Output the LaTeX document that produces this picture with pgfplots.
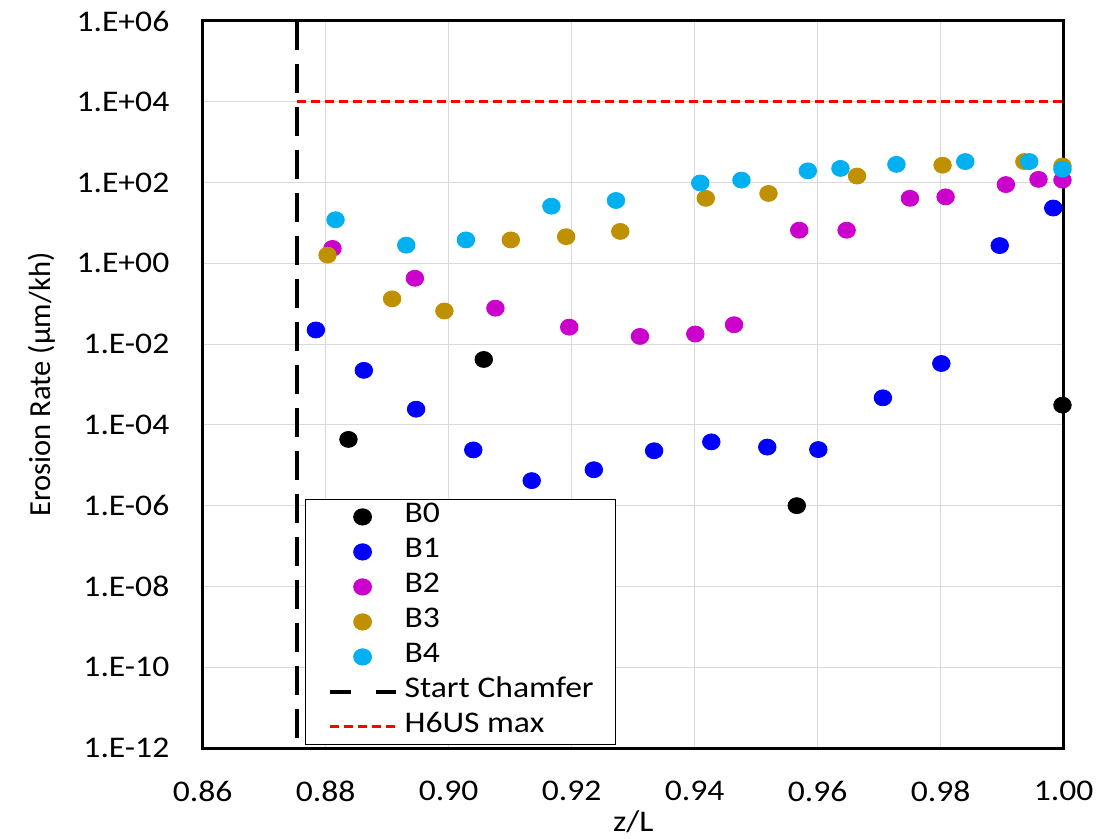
\documentclass[border=0pt]{standalone}
\usepackage{fontspec}
\setmainfont{Carlito}[FakeStretch=1.12]
\newfontfamily\ylfont{Carlito}
\usepackage{pgfplots}
\pgfplotsset{compat=1.18}
\definecolor{cB1}{RGB}{0,0,255}
\definecolor{cB2}{RGB}{204,0,204}
\definecolor{cB3}{RGB}{191,144,0}
\definecolor{cB4}{RGB}{0,176,240}
\definecolor{gridgray}{RGB}{217,217,217}
\pgfplotsset{
 markleg/.style={legend image code/.code={\draw[##1, mark repeat=2, mark phase=2] plot coordinates {(0bp,0bp) (16.5bp,0bp) (33bp,0bp)};}},
 lineleg/.style={legend image code/.code={\draw[##1] (0bp,0bp) -- (33bp,0bp);}},
 chamleg/.style={legend image code/.code={\draw[##1, dash pattern=on 10.5bp off 12.5bp] (0bp,0bp) -- (33bp,0bp);}},
 dot/.style={only marks, mark=*, mark size=4bp, mark options={solid, fill=#1, draw=#1, xscale=1.1}, color=#1, markleg},
}
\begin{document}
\begin{tikzpicture}
\useasboundingbox (-101.35bp,-45.5bp) rectangle (458.65bp,374bp);
\begin{axis}[
 scale only axis, width=430.5bp, height=363.5bp,
 ymode=log, xmin=0.86, xmax=1.00, ymin=1e-12, ymax=1e6,
 clip=false,
 xtick={0.86,0.88,0.90,0.92,0.94,0.96,0.98,1.00},
 xticklabels={0.86,0.88,0.90,0.92,0.94,0.96,0.98,1.00},
 ytick={1e-12,1e-10,1e-8,1e-6,1e-4,1e-2,1,1e2,1e4,1e6},
 yticklabels={1.E-12,1.E-10,1.E-08,1.E-06,1.E-04,1.E-02,1.E+00,1.E+02,1.E+04,1.E+06},
 yminorticks=false, xminorticks=false,
 major tick length=0pt,
 grid=major, major grid style={gridgray, line width=0.6bp},
 axis line style={black, line width=1.5bp},
 tick label style={font=\fontsize{15bp}{18bp}\selectfont, inner sep=0pt},
 yticklabel style={xshift=-16.5bp},
 xticklabel style={yshift=-16.3bp},
 every axis x label/.style={at={(axis description cs:0.5,-0.1155)}, anchor=base, font=\fontsize{15bp}{18bp}\selectfont},
 every axis y label/.style={at={(axis description cs:-0.1773,0.5)}, rotate=90, anchor=base, font=\fontsize{15.3bp}{18bp}\ylfont},
 xlabel={z/L},
 ylabel={Erosion Rate (µm/kh)},
 legend style={at={(0.1188,0.0041)}, anchor=south west, draw=black, line width=0.6bp, fill=white,
   font=\fontsize{15bp}{18bp}\selectfont, inner xsep=11bp, inner ysep=0bp, row sep=0pt, column sep=3.5bp,
   cells={anchor=west}, nodes={inner sep=0pt, text height=11.5bp, text depth=6bp}},
]
\addplot[dot=black] coordinates {
(0.8837,4.37e-5) (0.9057,4.17e-3) (0.9566,1.0e-6) (0.9998,3.09e-4)};
\addlegendentry{B0}
\addplot[dot=cB1] coordinates {
(0.8784,2.24e-2) (0.8862,2.24e-3) (0.8947,2.45e-4) (0.9040,2.40e-5) (0.9135,4.17e-6)
(0.9236,7.76e-6) (0.9334,2.29e-5) (0.9427,3.80e-5) (0.9518,2.82e-5) (0.9601,2.45e-5)
(0.9706,4.68e-4) (0.9801,3.31e-3) (0.9896,2.75) (0.9983,23.4)};
\addlegendentry{B1}
\addplot[dot=cB2] coordinates {
(0.8811,2.34) (0.8945,0.427) (0.9076,0.0776) (0.9196,0.0263) (0.9311,0.0155)
(0.9401,0.0178) (0.9464,0.0302) (0.9570,6.61) (0.9647,6.61) (0.9750,40.7)
(0.9808,44.2) (0.9906,89.1) (0.9959,120) (0.9998,115)};
\addlegendentry{B2}
\addplot[dot=cB3] coordinates {
(0.8803,1.60) (0.8908,0.132) (0.8993,0.0661) (0.9101,3.80) (0.9191,4.57)
(0.9279,6.17) (0.9418,40.7) (0.9520,53.7) (0.9664,145) (0.9803,269)
(0.9936,331) (0.9998,257)};
\addlegendentry{B3}
\addplot[dot=cB4] coordinates {
(0.8816,12.0) (0.8931,2.82) (0.9028,3.80) (0.9167,26.0) (0.9272,36.0)
(0.9409,97.7) (0.9476,115) (0.9584,195) (0.9637,224) (0.9728,282)
(0.9840,331) (0.9944,331) (0.9998,214)};
\addlegendentry{B4}
\addplot[black, line width=2bp, dash pattern=on 14.5bp off 7bp, chamleg] coordinates {(0.8753,1e6) (0.8753,1e-12)};
\addlegendentry{Start Chamfer}
\addplot[red, line width=1.5bp, dash pattern=on 4.5bp off 2.5bp, lineleg] coordinates {(0.8753,1e4) (1.0,1e4)};
\addlegendentry{H6US max}
\end{axis}
\end{tikzpicture}
\end{document}
